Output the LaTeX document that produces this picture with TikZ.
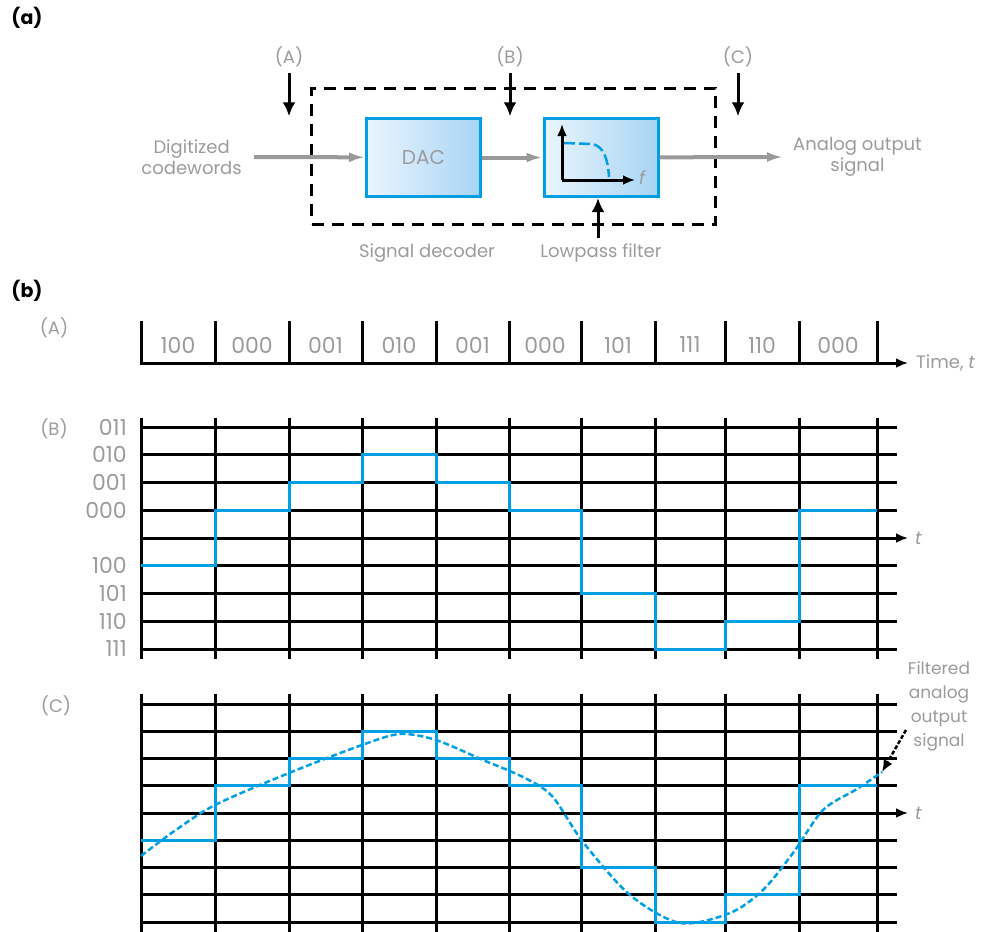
\documentclass[tikz,border=0pt]{standalone}
\usepackage{fontspec}
\setmainfont{Poppins}
\usetikzlibrary{arrows.meta,calc,positioning}

\definecolor{sigblue}{HTML}{009EE3}
\definecolor{boxlight}{HTML}{EAF5FD}
\definecolor{boxdark}{HTML}{A8D4F4}
\definecolor{txtgray}{HTML}{9B9B9B}
\definecolor{wiregray}{HTML}{999999}

\def\xs{141,215,289,362,436,509,581,655,725,799,877}
\def\steps{141/215/100/5, 215/289/000/3, 289/362/001/2, 362/436/010/1, 436/509/001/2, 509/581/000/3, 581/655/101/6, 655/725/111/8, 725/799/110/7, 799/877/000/3}

\begin{document}
\begin{tikzpicture}[x=1pt,y=-1pt,
		lbl/.style={text=txtgray,inner sep=0pt,align=center,font=\fontsize{18}{24}\selectfont},
		codelbl/.style={text=txtgray,inner sep=0pt,font=\fontsize{22}{24}\selectfont},
		part/.style={inner sep=0pt,font=\fontsize{19}{20}\selectfont\bfseries},
		blk/.style={draw=sigblue,line width=3pt,left color=boxlight,right color=boxdark,text=txtgray,minimum width=114pt,minimum height=78pt,inner sep=0pt},
		sig/.style={wiregray,line width=4pt,-{Latex[length=16pt,width=10pt]}},
		probe/.style={line width=3pt,-{Latex[length=14pt,width=13pt]}},
		timeaxis/.style={line width=3pt,-{Latex[length=12pt,width=10pt]}},
		gridline/.style={line width=3pt},
		stair/.style={sigblue,line width=3pt},
		smoothsig/.style={sigblue,line width=2.5pt,dash pattern=on 6pt off 3pt},
	]
	\useasboundingbox (0,0) rectangle (983,932);

	\node[part] (pa) at (27,18) {(a)};
	\node[draw,line width=3pt,dash pattern=on 12pt off 8pt,minimum width=404pt,minimum height=136pt] (dec) at (513.5,156) {};
	\node[blk] (dac) at (423.5,157.5) {\fontsize{20}{20}\selectfont DAC};
	\node[blk] (lpf) at (601,157.5) {};
	\coordinate (cw) at (254,157);
	\coordinate (ao) at (783,157);
	\draw[sig] (cw) -- (dac);
	\draw[sig] (dac) -- (lpf);
	\draw[sig] (lpf) -- (ao);
	\node[lbl,font=\fontsize{18}{21}\selectfont,left=12pt of cw] (cwl) {Digitized\\codewords};
	\node[lbl,font=\fontsize{18}{21}\selectfont,right=10pt of ao] (aol) {Analog output\\signal};
	\node[lbl] (tA) at (289,57) {(A)};
	\node[lbl] (tB) at (510,57) {(B)};
	\node[lbl] (tC) at (738,57) {(C)};
	\foreach \t in {tA,tB,tC}
		\draw[probe] ([yshift=-6pt]\t.south) -- ++(0,43);
	\node[lbl] (sd) at (427,253) {Signal decoder};
	\node[lbl] (lp) at (601,253) {Lowpass filter};
	\coordinate (lpin) at (598,238);
	\draw[probe] (lpin) -- (lpin |- lpf.south);
	\coordinate (o) at (562,180);
	\draw[timeaxis] (o) -- (562,124);
	\draw[timeaxis] (o) -- (635,180);
	\node[lbl,anchor=west] (fq) at (639,178) {\textit{f}};
	\draw[sigblue,line width=2.5pt,dash pattern=on 11pt off 4pt] (564,143) -- (592,144) .. controls (604,146) and (608,160) .. (609,177);

	\node[part] (pb) at (27,291) {(b)};
	\node[lbl] (rA) at (54,328) {(A)};
	\foreach \x in \xs
		\draw[gridline] (\x,321) -- (\x,363);
	\coordinate (ta) at (908,363);
	\draw[timeaxis] (139.5,363) -- (ta);
	\node[lbl,right=8pt of ta] (tal) {Time, \textit{t}};
	\foreach \xa/\xb/\c/\l in \steps
		\node[codelbl] at ({(\xa+\xb)/2},345) {\c};

	\node[lbl] (rB) at (54,429) {(B)};
	\foreach \k/\c in {0/011,1/010,2/001,3/000,5/100,6/101,7/110,8/111}
		\node[codelbl,anchor=east] at (127,{427+\k*27.75}) {\c};
	\foreach \k in {0,1,2,3,5,6,7,8}
		\draw[gridline] (141,{427+\k*27.75}) -- (897,{427+\k*27.75});
	\foreach \x in \xs
		\draw[gridline] (\x,418) -- (\x,659);
	\coordinate (tb) at (908,538);
	\draw[timeaxis] (141,538) -- (tb);
	\node[lbl,right=7pt of tb] (tbl) {\textit{t}};
	\draw[stair] (141,{427+5*27.75}) \foreach \xa/\xb/\c/\l in \steps { -- (\xa,{427+\l*27.75}) -- (\xb,{427+\l*27.75}) };

	\node[lbl] (rC) at (56,706) {(C)};
	\foreach \k in {0,1,2,3,5,6,7,8}
		\draw[gridline] (141,{704+\k*27.25}) -- (897,{704+\k*27.25});
	\foreach \x in \xs
		\draw[gridline] (\x,694) -- (\x,932);
	\coordinate (tc) at (908,813);
	\draw[timeaxis] (141,813) -- (tc);
	\node[lbl,right=7pt of tc] (tcl) {\textit{t}};
	\draw[stair] (141,{704+5*27.25}) \foreach \xa/\xb/\c/\l in \steps { -- (\xa,{704+\l*27.25}) -- (\xb,{704+\l*27.25}) };
	\draw[smoothsig] plot[smooth,tension=0.5] coordinates {(141,856) (173,832) (215,805) (289,773) (362,745) (400,734) (436,740) (483,760) (523,777) (552,796) (583,842) (630,895) (680,923) (730,913) (763,890) (793,853) (823,810) (857,789) (882,772)};
	\coordinate (fend) at (882,772);
	\coordinate (ftail) at (906,730);
	\node[lbl,font=\fontsize{17}{24}\selectfont] (flt) at (939,706) {Filtered\\analog\\output\\signal};
	\draw[line width=2.5pt,dash pattern=on 4pt off 2pt,-{Latex[length=12pt,width=10pt]}] (ftail) -- (fend);
\end{tikzpicture}
\end{document}
